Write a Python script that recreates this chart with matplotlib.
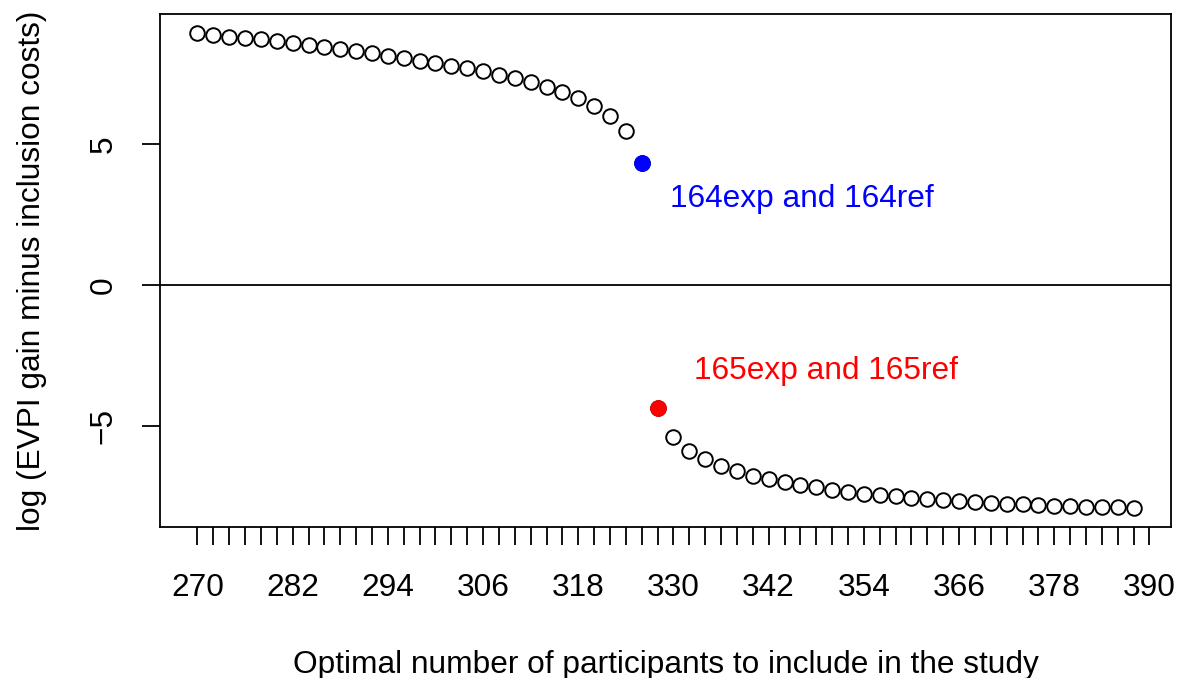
import numpy as np
import matplotlib
matplotlib.use("Agg")
import matplotlib.pyplot as plt

plt.rcParams['font.family'] = ['Liberation Sans', 'DejaVu Sans']

# participants (x) and log(EVPI gain - inclusion costs) (y)
participants = np.arange(270, 390, 2)
log_gain = [8.96, 8.90, 8.83, 8.79, 8.73, 8.67, 8.60, 8.52, 8.45, 8.39,
            8.32, 8.24, 8.14, 8.07, 7.98, 7.89, 7.80, 7.70, 7.60, 7.48,
            7.36, 7.21, 7.05, 6.86, 6.64, 6.36, 6.02, 5.48, 4.35, -4.37,
            -5.42, -5.89, -6.19, -6.45, -6.63, -6.80, -6.90, -7.02, -7.12, -7.19,
            -7.29, -7.36, -7.42, -7.48, -7.52, -7.57, -7.61, -7.64, -7.69, -7.71,
            -7.75, -7.78, -7.80, -7.82, -7.85, -7.86, -7.88, -7.89, -7.90, -7.93]
last_pos = 28   # last positive value (blue)
first_neg = 29  # first negative value (red)
x_ticks = np.arange(270, 392, 2)
x_labels = [270, 282, 294, 306, 318, 330, 342, 354, 366, 378, 390]
y_ticks = [-5, 0, 5]

x = participants
y = np.array(log_gain)
fs = 22.8

fig = plt.figure(figsize=(11.8, 6.78), dpi=100)
ax = fig.add_axes([0.1356, 0.2227, 0.8568, 0.7567])

ax.axhline(0, color='black', lw=1.3)
ax.plot(x, y, 'o', mfc='white', mec='black', ms=10.5, mew=1.4, ls='none')
ax.plot(x[last_pos], y[last_pos], 'o', color='blue', ms=11)
ax.plot(x[first_neg], y[first_neg], 'o', color='red', ms=11)

ax.text(329.6, 3.07, '164exp and 164ref', color='blue', fontsize=fs, ha='left', va='center')
ax.text(332.6, -3.07, '165exp and 165ref', color='red', fontsize=fs, ha='left', va='center')

# R-style 4% padding
xr = x.max() - x.min()
yr = y.max() - y.min()
ax.set_xlim(x.min() - 0.04 * xr, x.max() + 0.04 * xr)
ax.set_ylim(y.min() - 0.04 * yr, y.max() + 0.04 * yr)

# small ticks every 2, labels every 12
ax.xaxis.remove_overlapping_locs = False
ax.set_xticks(x_ticks, minor=True)
ax.set_xticks(x_labels)
ax.set_xticklabels([str(v) for v in x_labels])
ax.tick_params(axis='x', which='minor', length=13, width=1.3)
ax.tick_params(axis='x', which='major', length=0, width=0, pad=33, labelsize=fs)

ax.set_yticks(y_ticks)
ax.set_yticklabels([str(v) if v >= 0 else '\u2212' + str(-v) for v in y_ticks],
                   rotation=90, va='center')
ax.tick_params(axis='y', length=13, width=1.3, pad=17, labelsize=fs)

for s in ax.spines.values():
    s.set_linewidth(1.3)

ax.set_xlabel('Optimal number of participants to include in the study', fontsize=fs, labelpad=34)
ax.set_ylabel('log (EVPI gain minus inclusion costs)', fontsize=fs, labelpad=30)

fig.savefig('out.png', dpi=100)
